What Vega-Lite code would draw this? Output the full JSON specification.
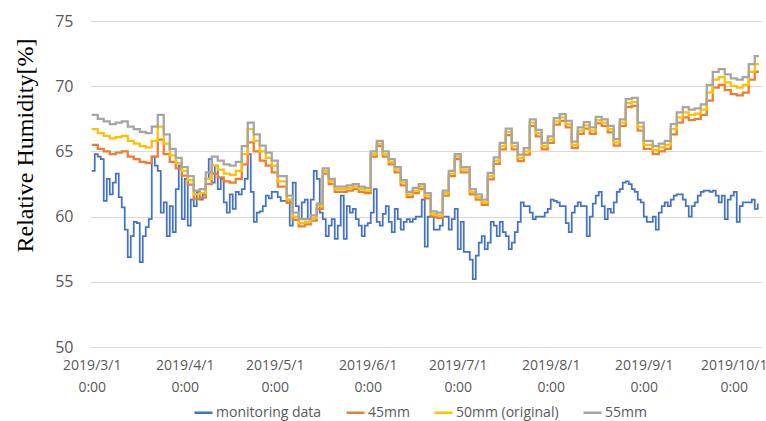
{
  "$schema": "https://vega.github.io/schema/vega-lite/v6.json",
  "width": 672,
  "height": 326,
  "autosize": {"type": "none"},
  "padding": {"left": 90, "top": 21, "right": 4, "bottom": 74},
  "background": "white",
  "config": {"view": {"stroke": null}, "font": "Open Sans"},
  "datasets": {
    "sim": [
      {"t":"2019-03-01","45mm":65.5,"50mm (original)":66.7,"55mm":67.8},
      {"t":"2019-03-03","45mm":65.2,"50mm (original)":66.4,"55mm":67.5},
      {"t":"2019-03-05","45mm":65.0,"50mm (original)":66.2,"55mm":67.3},
      {"t":"2019-03-07","45mm":64.8,"50mm (original)":66.0,"55mm":67.1},
      {"t":"2019-03-09","45mm":64.9,"50mm (original)":66.1,"55mm":67.2},
      {"t":"2019-03-11","45mm":65.0,"50mm (original)":66.2,"55mm":67.3},
      {"t":"2019-03-13","45mm":64.6,"50mm (original)":65.8,"55mm":66.9},
      {"t":"2019-03-15","45mm":64.4,"50mm (original)":65.6,"55mm":66.7},
      {"t":"2019-03-17","45mm":64.2,"50mm (original)":65.4,"55mm":66.5},
      {"t":"2019-03-19","45mm":64.1,"50mm (original)":65.3,"55mm":66.4},
      {"t":"2019-03-21","45mm":64.6,"50mm (original)":65.8,"55mm":66.9},
      {"t":"2019-03-23","45mm":65.9,"50mm (original)":66.9,"55mm":67.8},
      {"t":"2019-03-25","45mm":64.8,"50mm (original)":65.6,"55mm":66.3},
      {"t":"2019-03-27","45mm":64.2,"50mm (original)":64.7,"55mm":65.2},
      {"t":"2019-03-29","45mm":63.7,"50mm (original)":64.1,"55mm":64.5},
      {"t":"2019-03-31","45mm":63.15,"50mm (original)":63.5,"55mm":63.8},
      {"t":"2019-04-02","45mm":62.45,"50mm (original)":62.8,"55mm":63.1},
      {"t":"2019-04-04","45mm":61.35,"50mm (original)":61.7,"55mm":62.0},
      {"t":"2019-04-06","45mm":61.45,"50mm (original)":61.8,"55mm":62.1},
      {"t":"2019-04-08","45mm":62.5,"50mm (original)":62.9,"55mm":63.4},
      {"t":"2019-04-10","45mm":63.3,"50mm (original)":63.9,"55mm":64.6},
      {"t":"2019-04-12","45mm":63.0,"50mm (original)":63.6,"55mm":64.3},
      {"t":"2019-04-14","45mm":62.7,"50mm (original)":63.3,"55mm":64.0},
      {"t":"2019-04-16","45mm":62.6,"50mm (original)":63.2,"55mm":63.9},
      {"t":"2019-04-18","45mm":62.9,"50mm (original)":63.5,"55mm":64.2},
      {"t":"2019-04-20","45mm":64.0,"50mm (original)":64.8,"55mm":65.4},
      {"t":"2019-04-22","45mm":65.7,"50mm (original)":66.7,"55mm":67.2},
      {"t":"2019-04-24","45mm":65.0,"50mm (original)":65.8,"55mm":66.3},
      {"t":"2019-04-26","45mm":64.3,"50mm (original)":65.0,"55mm":65.45},
      {"t":"2019-04-28","45mm":63.9,"50mm (original)":64.5,"55mm":64.9},
      {"t":"2019-04-30","45mm":63.4,"50mm (original)":63.9,"55mm":64.3},
      {"t":"2019-05-02","45mm":62.3,"50mm (original)":62.7,"55mm":63.1},
      {"t":"2019-05-05","45mm":61.05,"50mm (original)":61.3,"55mm":61.6},
      {"t":"2019-05-07","45mm":59.75,"50mm (original)":60.0,"55mm":60.3},
      {"t":"2019-05-09","45mm":59.25,"50mm (original)":59.5,"55mm":59.8},
      {"t":"2019-05-11","45mm":59.4,"50mm (original)":59.6,"55mm":59.8},
      {"t":"2019-05-13","45mm":59.7,"50mm (original)":59.9,"55mm":60.1},
      {"t":"2019-05-15","45mm":60.6,"50mm (original)":60.8,"55mm":61.0},
      {"t":"2019-05-17","45mm":63.3,"50mm (original)":63.5,"55mm":63.7},
      {"t":"2019-05-19","45mm":62.5,"50mm (original)":62.7,"55mm":62.9},
      {"t":"2019-05-21","45mm":61.9,"50mm (original)":62.1,"55mm":62.3},
      {"t":"2019-05-23","45mm":61.9,"50mm (original)":62.1,"55mm":62.3},
      {"t":"2019-05-25","45mm":62.0,"50mm (original)":62.2,"55mm":62.4},
      {"t":"2019-05-27","45mm":62.1,"50mm (original)":62.3,"55mm":62.5},
      {"t":"2019-05-29","45mm":61.9,"50mm (original)":62.1,"55mm":62.3},
      {"t":"2019-05-31","45mm":61.8,"50mm (original)":62.0,"55mm":62.2},
      {"t":"2019-06-02","45mm":64.6,"50mm (original)":64.8,"55mm":65.0},
      {"t":"2019-06-04","45mm":65.4,"50mm (original)":65.6,"55mm":65.8},
      {"t":"2019-06-06","45mm":64.6,"50mm (original)":64.8,"55mm":65.0},
      {"t":"2019-06-08","45mm":64.0,"50mm (original)":64.2,"55mm":64.4},
      {"t":"2019-06-10","45mm":63.4,"50mm (original)":63.6,"55mm":63.8},
      {"t":"2019-06-12","45mm":62.4,"50mm (original)":62.6,"55mm":62.8},
      {"t":"2019-06-14","45mm":61.5,"50mm (original)":61.7,"55mm":61.9},
      {"t":"2019-06-16","45mm":61.8,"50mm (original)":62.0,"55mm":62.2},
      {"t":"2019-06-18","45mm":62.1,"50mm (original)":62.3,"55mm":62.5},
      {"t":"2019-06-20","45mm":61.4,"50mm (original)":61.6,"55mm":61.8},
      {"t":"2019-06-22","45mm":60.0,"50mm (original)":60.2,"55mm":60.4},
      {"t":"2019-06-24","45mm":59.9,"50mm (original)":60.1,"55mm":60.3},
      {"t":"2019-06-26","45mm":61.6,"50mm (original)":61.8,"55mm":62.0},
      {"t":"2019-06-28","45mm":63.1,"50mm (original)":63.3,"55mm":63.5},
      {"t":"2019-06-30","45mm":64.4,"50mm (original)":64.6,"55mm":64.8},
      {"t":"2019-07-02","45mm":63.4,"50mm (original)":63.6,"55mm":63.8},
      {"t":"2019-07-05","45mm":61.7,"50mm (original)":61.9,"55mm":62.1},
      {"t":"2019-07-07","45mm":61.3,"50mm (original)":61.5,"55mm":61.7},
      {"t":"2019-07-09","45mm":60.9,"50mm (original)":61.1,"55mm":61.3},
      {"t":"2019-07-11","45mm":62.85,"50mm (original)":63.1,"55mm":63.35},
      {"t":"2019-07-13","45mm":64.05,"50mm (original)":64.3,"55mm":64.55},
      {"t":"2019-07-15","45mm":65.15,"50mm (original)":65.4,"55mm":65.65},
      {"t":"2019-07-17","45mm":66.25,"50mm (original)":66.5,"55mm":66.75},
      {"t":"2019-07-19","45mm":65.15,"50mm (original)":65.4,"55mm":65.65},
      {"t":"2019-07-21","45mm":64.25,"50mm (original)":64.5,"55mm":64.75},
      {"t":"2019-07-23","45mm":64.75,"50mm (original)":65.0,"55mm":65.25},
      {"t":"2019-07-25","45mm":66.95,"50mm (original)":67.2,"55mm":67.45},
      {"t":"2019-07-27","45mm":66.15,"50mm (original)":66.4,"55mm":66.65},
      {"t":"2019-07-29","45mm":65.15,"50mm (original)":65.4,"55mm":65.65},
      {"t":"2019-07-31","45mm":65.65,"50mm (original)":65.9,"55mm":66.15},
      {"t":"2019-08-02","45mm":67.05,"50mm (original)":67.3,"55mm":67.55},
      {"t":"2019-08-04","45mm":67.35,"50mm (original)":67.6,"55mm":67.85},
      {"t":"2019-08-06","45mm":66.85,"50mm (original)":67.1,"55mm":67.35},
      {"t":"2019-08-08","45mm":65.25,"50mm (original)":65.5,"55mm":65.75},
      {"t":"2019-08-10","45mm":66.35,"50mm (original)":66.6,"55mm":66.85},
      {"t":"2019-08-12","45mm":66.75,"50mm (original)":67.0,"55mm":67.25},
      {"t":"2019-08-14","45mm":66.35,"50mm (original)":66.6,"55mm":66.85},
      {"t":"2019-08-16","45mm":67.15,"50mm (original)":67.4,"55mm":67.65},
      {"t":"2019-08-18","45mm":66.95,"50mm (original)":67.2,"55mm":67.45},
      {"t":"2019-08-20","45mm":66.45,"50mm (original)":66.7,"55mm":66.95},
      {"t":"2019-08-22","45mm":65.45,"50mm (original)":65.7,"55mm":65.95},
      {"t":"2019-08-24","45mm":66.95,"50mm (original)":67.2,"55mm":67.45},
      {"t":"2019-08-26","45mm":68.4,"50mm (original)":68.7,"55mm":69.0},
      {"t":"2019-08-28","45mm":68.5,"50mm (original)":68.8,"55mm":69.1},
      {"t":"2019-08-30","45mm":66.6,"50mm (original)":66.9,"55mm":67.2},
      {"t":"2019-09-01","45mm":65.2,"50mm (original)":65.5,"55mm":65.8},
      {"t":"2019-09-04","45mm":64.8,"50mm (original)":65.1,"55mm":65.4},
      {"t":"2019-09-06","45mm":65.0,"50mm (original)":65.3,"55mm":65.6},
      {"t":"2019-09-08","45mm":65.2,"50mm (original)":65.5,"55mm":65.8},
      {"t":"2019-09-10","45mm":66.3,"50mm (original)":66.7,"55mm":67.1},
      {"t":"2019-09-12","45mm":67.2,"50mm (original)":67.6,"55mm":68.0},
      {"t":"2019-09-14","45mm":67.6,"50mm (original)":68.0,"55mm":68.4},
      {"t":"2019-09-16","45mm":67.4,"50mm (original)":67.8,"55mm":68.2},
      {"t":"2019-09-18","45mm":67.5,"50mm (original)":67.9,"55mm":68.3},
      {"t":"2019-09-20","45mm":67.8,"50mm (original)":68.2,"55mm":68.6},
      {"t":"2019-09-22","45mm":68.9,"50mm (original)":69.5,"55mm":70.1},
      {"t":"2019-09-24","45mm":69.9,"50mm (original)":70.5,"55mm":71.1},
      {"t":"2019-09-26","45mm":70.1,"50mm (original)":70.7,"55mm":71.3},
      {"t":"2019-09-28","45mm":69.7,"50mm (original)":70.3,"55mm":70.9},
      {"t":"2019-09-30","45mm":69.4,"50mm (original)":70.0,"55mm":70.6},
      {"t":"2019-10-02","45mm":69.3,"50mm (original)":69.9,"55mm":70.5},
      {"t":"2019-10-04","45mm":69.5,"50mm (original)":70.1,"55mm":70.7},
      {"t":"2019-10-06","45mm":70.5,"50mm (original)":71.1,"55mm":71.7},
      {"t":"2019-10-08","45mm":71.1,"50mm (original)":71.7,"55mm":72.3},
      {"t":"2019-10-09","45mm":71.2,"50mm (original)":71.8,"55mm":72.4}
    ],
    "mon": [
      {"t":"2019-03-01","v":63.5},{"t":"2019-03-02","v":64.8},{"t":"2019-03-03","v":64.6},{"t":"2019-03-04","v":64.4},
      {"t":"2019-03-05","v":61.2},{"t":"2019-03-06","v":62.9},{"t":"2019-03-07","v":61.7},{"t":"2019-03-08","v":62.6},
      {"t":"2019-03-09","v":63.3},{"t":"2019-03-10","v":61.5},{"t":"2019-03-11","v":60.7},{"t":"2019-03-12","v":59.0},
      {"t":"2019-03-13","v":56.9},{"t":"2019-03-14","v":58.5},{"t":"2019-03-15","v":59.6},{"t":"2019-03-16","v":59.5},
      {"t":"2019-03-17","v":56.5},{"t":"2019-03-18","v":58.5},{"t":"2019-03-19","v":59.2},{"t":"2019-03-20","v":59.8},
      {"t":"2019-03-21","v":64.6},{"t":"2019-03-22","v":63.9},{"t":"2019-03-23","v":63.5},{"t":"2019-03-24","v":60.3},
      {"t":"2019-03-25","v":61.1},{"t":"2019-03-26","v":58.5},{"t":"2019-03-27","v":60.8},{"t":"2019-03-28","v":58.8},
      {"t":"2019-03-29","v":62.1},{"t":"2019-03-30","v":63.9},{"t":"2019-03-31","v":59.8},{"t":"2019-04-01","v":62.9},
      {"t":"2019-04-02","v":59.3},{"t":"2019-04-03","v":61.3},{"t":"2019-04-04","v":60.8},{"t":"2019-04-05","v":61.9},
      {"t":"2019-04-06","v":61.3},{"t":"2019-04-07","v":61.7},{"t":"2019-04-08","v":62.9},{"t":"2019-04-09","v":64.4},
      {"t":"2019-04-10","v":62.6},{"t":"2019-04-11","v":63.9},{"t":"2019-04-12","v":62.1},{"t":"2019-04-13","v":62.9},
      {"t":"2019-04-14","v":61.1},{"t":"2019-04-15","v":60.3},{"t":"2019-04-16","v":61.7},{"t":"2019-04-17","v":60.6},
      {"t":"2019-04-18","v":61.9},{"t":"2019-04-19","v":61.7},{"t":"2019-04-20","v":62.1},{"t":"2019-04-21","v":62.9},
      {"t":"2019-04-22","v":64.8},{"t":"2019-04-23","v":61.9},{"t":"2019-04-24","v":59.6},{"t":"2019-04-25","v":60.3},
      {"t":"2019-04-26","v":60.4},{"t":"2019-04-27","v":60.8},{"t":"2019-04-28","v":61.6},{"t":"2019-04-29","v":61.4},
      {"t":"2019-04-30","v":61.9},{"t":"2019-05-01","v":61.9},{"t":"2019-05-02","v":61.5},{"t":"2019-05-03","v":61.2},
      {"t":"2019-05-05","v":61.3},{"t":"2019-05-06","v":59.3},{"t":"2019-05-07","v":62.6},{"t":"2019-05-08","v":60.8},
      {"t":"2019-05-09","v":59.8},{"t":"2019-05-10","v":61.1},{"t":"2019-05-11","v":61.3},{"t":"2019-05-12","v":59.8},
      {"t":"2019-05-13","v":61.3},{"t":"2019-05-14","v":63.5},{"t":"2019-05-15","v":62.9},{"t":"2019-05-16","v":60.3},
      {"t":"2019-05-17","v":59.8},{"t":"2019-05-18","v":58.5},{"t":"2019-05-19","v":59.3},{"t":"2019-05-20","v":59.8},
      {"t":"2019-05-21","v":58.3},{"t":"2019-05-22","v":59.3},{"t":"2019-05-23","v":61.6},{"t":"2019-05-24","v":58.3},
      {"t":"2019-05-25","v":60.8},{"t":"2019-05-26","v":60.3},{"t":"2019-05-27","v":60.6},{"t":"2019-05-28","v":59.8},
      {"t":"2019-05-29","v":59.3},{"t":"2019-05-30","v":58.5},{"t":"2019-05-31","v":59.3},{"t":"2019-06-01","v":59.5},
      {"t":"2019-06-02","v":60.3},{"t":"2019-06-03","v":62.1},{"t":"2019-06-04","v":59.6},{"t":"2019-06-05","v":59.3},
      {"t":"2019-06-06","v":60.2},{"t":"2019-06-07","v":60.8},{"t":"2019-06-08","v":59.6},{"t":"2019-06-09","v":58.8},
      {"t":"2019-06-10","v":60.6},{"t":"2019-06-11","v":59.8},{"t":"2019-06-12","v":59.0},{"t":"2019-06-13","v":59.6},
      {"t":"2019-06-14","v":59.8},{"t":"2019-06-15","v":59.6},{"t":"2019-06-16","v":59.8},{"t":"2019-06-17","v":60.0},
      {"t":"2019-06-18","v":60.0},{"t":"2019-06-19","v":61.3},{"t":"2019-06-20","v":57.7},{"t":"2019-06-21","v":60.0},
      {"t":"2019-06-22","v":60.0},{"t":"2019-06-23","v":59.0},{"t":"2019-06-24","v":59.0},{"t":"2019-06-25","v":59.3},
      {"t":"2019-06-26","v":60.0},{"t":"2019-06-27","v":60.0},{"t":"2019-06-28","v":59.0},{"t":"2019-06-29","v":59.8},
      {"t":"2019-06-30","v":60.6},{"t":"2019-07-01","v":57.5},{"t":"2019-07-02","v":59.6},{"t":"2019-07-03","v":57.3},
      {"t":"2019-07-05","v":56.7},{"t":"2019-07-06","v":55.2},{"t":"2019-07-07","v":57.0},{"t":"2019-07-08","v":58.0},
      {"t":"2019-07-09","v":58.5},{"t":"2019-07-10","v":57.5},{"t":"2019-07-11","v":58.0},{"t":"2019-07-12","v":59.6},
      {"t":"2019-07-13","v":59.3},{"t":"2019-07-14","v":58.5},{"t":"2019-07-15","v":59.6},{"t":"2019-07-16","v":58.8},
      {"t":"2019-07-17","v":58.5},{"t":"2019-07-18","v":57.5},{"t":"2019-07-19","v":58.0},{"t":"2019-07-20","v":58.8},
      {"t":"2019-07-21","v":59.6},{"t":"2019-07-22","v":61.1},{"t":"2019-07-23","v":60.8},{"t":"2019-07-24","v":60.8},
      {"t":"2019-07-25","v":60.3},{"t":"2019-07-26","v":59.8},{"t":"2019-07-27","v":60.0},{"t":"2019-07-28","v":60.0},
      {"t":"2019-07-29","v":60.0},{"t":"2019-07-30","v":60.3},{"t":"2019-07-31","v":60.6},{"t":"2019-08-01","v":61.3},
      {"t":"2019-08-02","v":61.2},{"t":"2019-08-03","v":61.1},{"t":"2019-08-04","v":60.8},{"t":"2019-08-05","v":60.8},
      {"t":"2019-08-06","v":59.5},{"t":"2019-08-07","v":58.8},{"t":"2019-08-08","v":60.3},{"t":"2019-08-09","v":60.8},
      {"t":"2019-08-10","v":61.1},{"t":"2019-08-11","v":60.8},{"t":"2019-08-12","v":60.8},{"t":"2019-08-13","v":58.5},
      {"t":"2019-08-14","v":60.0},{"t":"2019-08-15","v":61.0},{"t":"2019-08-16","v":61.6},{"t":"2019-08-17","v":61.9},
      {"t":"2019-08-18","v":60.8},{"t":"2019-08-19","v":59.8},{"t":"2019-08-20","v":60.6},{"t":"2019-08-21","v":60.3},
      {"t":"2019-08-22","v":61.1},{"t":"2019-08-23","v":61.9},{"t":"2019-08-24","v":62.1},{"t":"2019-08-25","v":62.6},
      {"t":"2019-08-26","v":62.7},{"t":"2019-08-27","v":62.5},{"t":"2019-08-28","v":62.1},{"t":"2019-08-29","v":61.9},
      {"t":"2019-08-30","v":61.3},{"t":"2019-08-31","v":61.1},{"t":"2019-09-01","v":60.0},{"t":"2019-09-02","v":59.6},
      {"t":"2019-09-04","v":60.0},{"t":"2019-09-05","v":59.0},{"t":"2019-09-06","v":60.3},{"t":"2019-09-07","v":60.8},
      {"t":"2019-09-08","v":61.1},{"t":"2019-09-09","v":60.8},{"t":"2019-09-10","v":61.3},{"t":"2019-09-11","v":61.6},
      {"t":"2019-09-12","v":61.7},{"t":"2019-09-13","v":61.7},{"t":"2019-09-14","v":61.3},{"t":"2019-09-15","v":60.8},
      {"t":"2019-09-16","v":60.0},{"t":"2019-09-17","v":60.8},{"t":"2019-09-18","v":61.1},{"t":"2019-09-19","v":61.6},
      {"t":"2019-09-20","v":61.9},{"t":"2019-09-21","v":62.0},{"t":"2019-09-22","v":62.0},{"t":"2019-09-23","v":61.9},
      {"t":"2019-09-24","v":62.0},{"t":"2019-09-25","v":61.6},{"t":"2019-09-26","v":61.1},{"t":"2019-09-27","v":61.6},
      {"t":"2019-09-28","v":59.8},{"t":"2019-09-29","v":61.3},{"t":"2019-09-30","v":61.6},{"t":"2019-10-01","v":61.9},
      {"t":"2019-10-02","v":59.6},{"t":"2019-10-03","v":60.8},{"t":"2019-10-04","v":61.1},{"t":"2019-10-05","v":61.1},
      {"t":"2019-10-06","v":61.1},{"t":"2019-10-07","v":61.3},{"t":"2019-10-08","v":60.6},{"t":"2019-10-09","v":61.0}
    ]
  },
  "layer": [
    {
      "data": {"name": "mon"},
      "mark": {"type": "line", "interpolate": "step-after", "strokeWidth": 1.75},
      "encoding": {
        "x": {
          "field": "t", "type": "temporal",
          "scale": {"type": "utc", "domain": [
            {"year": 2019, "month": 2, "date": 28, "hours": 10, "utc": true},
            {"year": 2019, "month": 10, "date": 10, "hours": 10, "utc": true}
          ]},
          "axis": {
            "title": null,
            "values": [
              {"year": 2019, "month": 3, "date": 1, "utc": true},
              {"year": 2019, "month": 4, "date": 1, "utc": true},
              {"year": 2019, "month": 5, "date": 1, "utc": true},
              {"year": 2019, "month": 6, "date": 1, "utc": true},
              {"year": 2019, "month": 7, "date": 1, "utc": true},
              {"year": 2019, "month": 8, "date": 1, "utc": true},
              {"year": 2019, "month": 9, "date": 1, "utc": true},
              {"year": 2019, "month": 10, "date": 1, "utc": true}
            ],
            "labelExpr": "[utcFormat(datum.value, '%Y/%-m/%-d'), '0:00']",
            "grid": false, "ticks": false, "domain": false,
            "labelFont": "Open Sans", "labelFontSize": 14, "labelColor": "#595959",
            "labelPadding": 11, "labelLineHeight": 22,
            "labelOverlap": false, "labelFlush": false
          }
        },
        "y": {
          "field": "v", "type": "quantitative",
          "scale": {"domain": [50, 75], "nice": false, "zero": false},
          "axis": {
            "values": [50, 55, 60, 65, 70, 75],
            "grid": true, "gridColor": "#d9d9d9", "gridWidth": 1,
            "ticks": false, "domain": false,
            "labelFont": "Open Sans", "labelFontSize": 16, "labelColor": "#595959", "labelPadding": 17,
            "title": "Relative Humidity[%]",
            "titleFont": "Liberation Serif", "titleFontSize": 24, "titleFontWeight": "normal",
            "titleColor": "#000000", "titleAngle": 270, "titleBaseline": "alphabetic",
            "titleX": -58, "titleY": 124
          }
        },
        "color": {
          "datum": "monitoring data", "type": "nominal", "title": null,
          "scale": {
            "domain": ["monitoring data", "45mm", "50mm (original)", "55mm"],
            "range": ["#4472C4", "#ED7D31", "#FFC000", "#A5A5A5"]
          },
          "legend": {
            "orient": "none", "legendX": 103, "legendY": 381, "direction": "horizontal",
            "title": null, "symbolType": "stroke", "symbolSize": 324, "symbolStrokeWidth": 2.5,
            "labelFont": "Open Sans", "labelFontSize": 14, "labelColor": "#595959",
            "labelOffset": 2, "columnPadding": 19, "padding": 0
          }
        }
      }
    },
    {
      "data": {"name": "sim"},
      "transform": [{"fold": ["45mm", "50mm (original)", "55mm"], "as": ["k", "v"]}],
      "mark": {"type": "line", "interpolate": "step-after", "strokeWidth": 2.25},
      "encoding": {
        "x": {"field": "t", "type": "temporal"},
        "y": {"field": "v", "type": "quantitative"},
        "color": {
          "field": "k", "type": "nominal", "title": null,
          "legend": {
            "orient": "none", "legendX": 103, "legendY": 381, "direction": "horizontal",
            "title": null, "symbolType": "stroke", "symbolSize": 324, "symbolStrokeWidth": 2.5,
            "labelFont": "Open Sans", "labelFontSize": 14, "labelColor": "#595959",
            "labelOffset": 2, "columnPadding": 19, "padding": 0
          }
        }
      }
    }
  ]
}
